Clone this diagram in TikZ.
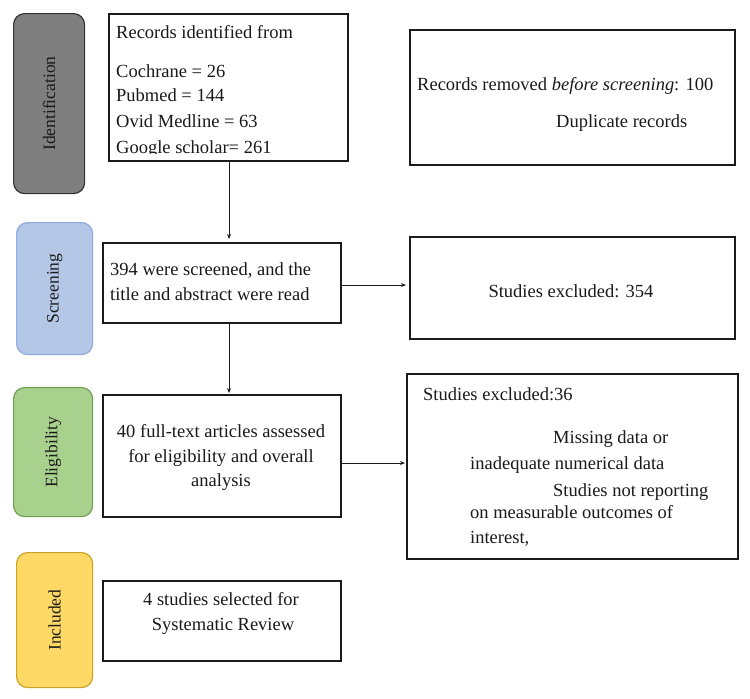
\documentclass[tikz,border=0pt]{standalone}
\usepackage{fontspec}
\setmainfont{Liberation Serif}
\usetikzlibrary{arrows.meta}
\definecolor{idfill}{HTML}{7F7F7F}
\definecolor{idline}{HTML}{333333}
\definecolor{scfill}{HTML}{B4C7E7}
\definecolor{scline}{HTML}{8FAADC}
\definecolor{elfill}{HTML}{A9D18E}
\definecolor{elline}{HTML}{6F9E4F}
\definecolor{infill}{HTML}{FFD966}
\definecolor{inline}{HTML}{C9A227}
\definecolor{ink}{HTML}{1A1A1A}
\begin{document}
\begin{tikzpicture}[x=1pt,y=-1pt,
  font=\fontsize{18.5}{24.5}\selectfont,
  box/.style={draw=ink, line width=1.5pt, inner sep=0pt, anchor=north west},
  stage/.style={line width=1.2pt, rounded corners=11pt, inner sep=0pt, anchor=north west},
  stagetext/.style={rotate=90, font=\fontsize{17.5}{20}\selectfont, inner sep=0pt, text=ink},
  tl/.style={anchor=base west, inner sep=0pt, text=ink},
  tc/.style={anchor=base, inner sep=0pt, text=ink},
  arr/.style={draw=ink, line width=0.9pt, -{Stealth[length=5pt,width=4pt]}}
]
\useasboundingbox (0,0) rectangle (750,699);
\fill[white] (0,0) rectangle (750,699);

% stage labels
\node[stage, draw=idline, fill=idfill, minimum width=71pt, minimum height=180pt] (sid) at (13,13) {};
\node[stagetext] (sidt) at (sid.center) {Identification};
\node[stage, draw=scline, fill=scfill, minimum width=76pt, minimum height=132pt] (ssc) at (16,222) {};
\node[stagetext] (ssct) at (ssc.center) {Screening};
\node[stage, draw=elline, fill=elfill, minimum width=79pt, minimum height=129pt] (sel) at (13,387) {};
\node[stagetext] (selt) at (sel.center) {Eligibility};
\node[stage, draw=inline, fill=infill, minimum width=76pt, minimum height=135pt] (sin) at (16,552) {};
\node[stagetext] (sint) at (sin.center) {Included};

% records identified (text clipped near box bottom)
\begin{scope}
\clip (108,13) rectangle (347,153.5);
\node[tl] (r1) at (116,38) {Records identified from};
\node[tl] (r2) at (116,77) {Cochrane = 26};
\node[tl] (r3) at (116,101) {Pubmed = 144};
\node[tl] (r4) at (116,127) {Ovid Medline = 63};
\node[tl] (r5) at (116,153) {Google scholar= 261};
\end{scope}
\node[box, minimum width=239pt, minimum height=147pt] (rec) at (108,13) {};

% records removed
\node[box, minimum width=325pt, minimum height=135pt] (rem) at (409,29) {};
\node[tl] (m1) at (417,90) {Records removed \textit{before screening}: 100};
\node[tl] (m2) at (556,127) {Duplicate records};

% screening
\node[box, minimum width=238pt, minimum height=80pt] (scr) at (102,242) {};
\node[tl] (s1) at (110,275) {394 were screened, and the};
\node[tl] (s2) at (110,300) {title and abstract were read};

% excluded 354
\node[box, minimum width=325pt, minimum height=102pt] (ex1) at (409,236) {};
\node[tc] (e1) at (571,297) {Studies excluded: 354};

% eligibility
\node[box, minimum width=238pt, minimum height=122pt] (eli) at (102,394) {};
\node[tc] (l1) at (221,437) {40 full-text articles assessed};
\node[tc] (l2) at (221,462) {for eligibility and overall};
\node[tc] (l3) at (221,486) {analysis};

% excluded 36
\node[box, minimum width=331pt, minimum height=185pt] (ex2) at (406,373) {};
\node[tl] (x1) at (423,400) {Studies excluded:36};
\node[tl] (x2) at (553,443) {Missing data or};
\node[tl] (x3) at (470,469) {inadequate numerical data};
\node[tl] (x4) at (553,496) {Studies not reporting};
\node[tl] (x5) at (470,518) {on measurable outcomes of};
\node[tl] (x6) at (470,543) {interest,};

% included
\node[box, minimum width=238pt, minimum height=80pt] (inc) at (102,580) {};
\node[tc] (i1) at (221,605) {4 studies selected for};
\node[tc] (i2) at (223,630) {Systematic Review};

% connectors
\coordinate (ax) at (229,0);
\coordinate (ay1) at (0,285);
\coordinate (ay2) at (0,463);
\draw[arr, shorten >=3pt] (rec.south -| ax) -- (scr.north -| ax);
\draw[arr, shorten >=1pt] (scr.south -| ax) -- (eli.north -| ax);
\draw[arr, shorten >=3pt] (scr.east |- ay1) -- (ex1.west |- ay1);
\draw[arr, shorten >=1pt] (eli.east |- ay2) -- (ex2.west |- ay2);
\end{tikzpicture}
\end{document}
